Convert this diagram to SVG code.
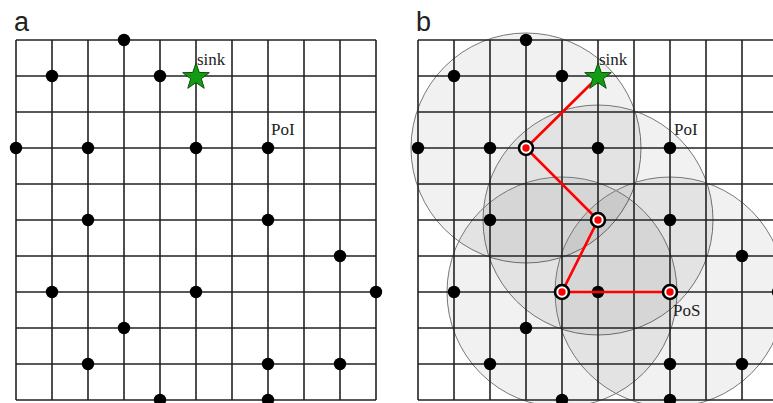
<svg xmlns="http://www.w3.org/2000/svg" xmlns:xlink="http://www.w3.org/1999/xlink" width="773" height="403" viewBox="0 0 773 403">
<style>
.grid line{stroke:#222;stroke-width:1.6}
.range{fill:#000;fill-opacity:0.055;stroke:#777;stroke-width:1}
.dot{fill:#000}
.ring{fill:#fff;stroke:#000;stroke-width:2.6}
.core{fill:#f00}
.link{stroke:#f00;stroke-width:2.6;fill:none}
.star{fill:#139b13;stroke:#0b4f0b;stroke-width:1}
.lbl{font-family:"Liberation Serif","Times New Roman",serif;font-size:17px;fill:#222}
.pan{font-family:"Liberation Sans",Arial,sans-serif;font-size:27px;fill:#222}
</style>
<defs>
<polygon id="starshape" class="star" points="0,-14 3.29,-4.53 13.31,-4.33 5.33,1.73 8.23,11.33 0,5.6 -8.23,11.33 -5.33,1.73 -13.31,-4.33 -3.29,-4.53"/>
<circle id="bd" class="dot" r="6.2"/>
</defs>
<rect width="773" height="403" fill="#fff"/>

<text class="pan" x="14" y="31">a</text>
<text class="pan" x="416" y="31">b</text>

<g id="ranges">
<circle class="range" cx="526" cy="148" r="115"/>
<circle class="range" cx="598" cy="220" r="115"/>
<circle class="range" cx="562" cy="292" r="115"/>
<circle class="range" cx="670" cy="292" r="115"/>
</g>

<g id="grid-a" class="grid">
<line x1="16" y1="40" x2="16" y2="400"/><line x1="52" y1="40" x2="52" y2="400"/><line x1="88" y1="40" x2="88" y2="400"/><line x1="124" y1="40" x2="124" y2="400"/><line x1="160" y1="40" x2="160" y2="400"/><line x1="196" y1="40" x2="196" y2="400"/><line x1="232" y1="40" x2="232" y2="400"/><line x1="268" y1="40" x2="268" y2="400"/><line x1="304" y1="40" x2="304" y2="400"/><line x1="340" y1="40" x2="340" y2="400"/><line x1="376" y1="40" x2="376" y2="400"/>
<line x1="16" y1="40" x2="376" y2="40"/><line x1="16" y1="76" x2="376" y2="76"/><line x1="16" y1="112" x2="376" y2="112"/><line x1="16" y1="148" x2="376" y2="148"/><line x1="16" y1="184" x2="376" y2="184"/><line x1="16" y1="220" x2="376" y2="220"/><line x1="16" y1="256" x2="376" y2="256"/><line x1="16" y1="292" x2="376" y2="292"/><line x1="16" y1="328" x2="376" y2="328"/><line x1="16" y1="364" x2="376" y2="364"/><line x1="16" y1="400" x2="376" y2="400"/>
</g>

<g id="grid-b" class="grid">
<line x1="418" y1="40" x2="418" y2="400"/><line x1="454" y1="40" x2="454" y2="400"/><line x1="490" y1="40" x2="490" y2="400"/><line x1="526" y1="40" x2="526" y2="400"/><line x1="562" y1="40" x2="562" y2="400"/><line x1="598" y1="40" x2="598" y2="400"/><line x1="634" y1="40" x2="634" y2="400"/><line x1="670" y1="40" x2="670" y2="400"/><line x1="706" y1="40" x2="706" y2="400"/><line x1="742" y1="40" x2="742" y2="400"/><line x1="778" y1="40" x2="778" y2="400"/>
<line x1="418" y1="40" x2="778" y2="40"/><line x1="418" y1="76" x2="778" y2="76"/><line x1="418" y1="112" x2="778" y2="112"/><line x1="418" y1="148" x2="778" y2="148"/><line x1="418" y1="184" x2="778" y2="184"/><line x1="418" y1="220" x2="778" y2="220"/><line x1="418" y1="256" x2="778" y2="256"/><line x1="418" y1="292" x2="778" y2="292"/><line x1="418" y1="328" x2="778" y2="328"/><line x1="418" y1="364" x2="778" y2="364"/><line x1="418" y1="400" x2="778" y2="400"/>
</g>

<g id="nodes-a">
<use id="a1" xlink:href="#bd" x="124" y="40"/>
<use id="a2" xlink:href="#bd" x="52" y="76"/>
<use id="a3" xlink:href="#bd" x="160" y="76"/>
<use id="a4" xlink:href="#bd" x="16" y="148"/>
<use id="a5" xlink:href="#bd" x="88" y="148"/>
<use id="a6" xlink:href="#bd" x="196" y="148"/>
<use id="a7" xlink:href="#bd" x="268" y="148"/>
<use id="a8" xlink:href="#bd" x="88" y="220"/>
<use id="a9" xlink:href="#bd" x="268" y="220"/>
<use id="a10" xlink:href="#bd" x="340" y="256"/>
<use id="a11" xlink:href="#bd" x="52" y="292"/>
<use id="a12" xlink:href="#bd" x="196" y="292"/>
<use id="a13" xlink:href="#bd" x="376" y="292"/>
<use id="a14" xlink:href="#bd" x="124" y="328"/>
<use id="a15" xlink:href="#bd" x="88" y="364"/>
<use id="a16" xlink:href="#bd" x="268" y="364"/>
<use id="a17" xlink:href="#bd" x="340" y="364"/>
<use id="a18" xlink:href="#bd" x="160" y="400"/>
<use id="a19" xlink:href="#bd" x="268" y="400"/>
</g>
<g id="sink-a"><use xlink:href="#starshape" x="196" y="77"/><text class="lbl" x="197" y="65">sink</text></g>
<g id="poi-a"><text class="lbl" x="271" y="135">PoI</text></g>

<g id="nodes-b">
<use id="b1" xlink:href="#bd" x="526" y="40"/>
<use id="b2" xlink:href="#bd" x="454" y="76"/>
<use id="b3" xlink:href="#bd" x="562" y="76"/>
<use id="b4" xlink:href="#bd" x="418" y="148"/>
<use id="b5" xlink:href="#bd" x="490" y="148"/>
<use id="b6" xlink:href="#bd" x="598" y="148"/>
<use id="b7" xlink:href="#bd" x="670" y="148"/>
<use id="b8" xlink:href="#bd" x="490" y="220"/>
<use id="b9" xlink:href="#bd" x="670" y="220"/>
<use id="b10" xlink:href="#bd" x="742" y="256"/>
<use id="b11" xlink:href="#bd" x="454" y="292"/>
<use id="b12" xlink:href="#bd" x="598" y="292"/>
<use id="b13" xlink:href="#bd" x="778" y="292"/>
<use id="b14" xlink:href="#bd" x="526" y="328"/>
<use id="b15" xlink:href="#bd" x="490" y="364"/>
<use id="b16" xlink:href="#bd" x="670" y="364"/>
<use id="b17" xlink:href="#bd" x="742" y="364"/>
<use id="b18" xlink:href="#bd" x="562" y="400"/>
<use id="b19" xlink:href="#bd" x="670" y="400"/>
</g>

<g id="connectors">
<polyline class="link" points="598,77 526,148 598,220 562,292 670,292"/>
</g>

<g id="relay1"><circle class="ring" cx="526" cy="148" r="7"/><circle class="core" cx="526" cy="148" r="3.7"/></g>
<g id="relay2"><circle class="ring" cx="598" cy="220" r="7"/><circle class="core" cx="598" cy="220" r="3.7"/></g>
<g id="relay3"><circle class="ring" cx="562" cy="292" r="7"/><circle class="core" cx="562" cy="292" r="3.7"/></g>
<g id="pos"><circle class="ring" cx="670" cy="292" r="7"/><circle class="core" cx="670" cy="292" r="3.7"/><text class="lbl" x="673" y="316">PoS</text></g>
<g id="sink-b"><use xlink:href="#starshape" x="598" y="77"/><text class="lbl" x="599" y="65">sink</text></g>
<g id="poi-b"><text class="lbl" x="674" y="135">PoI</text></g>
</svg>
